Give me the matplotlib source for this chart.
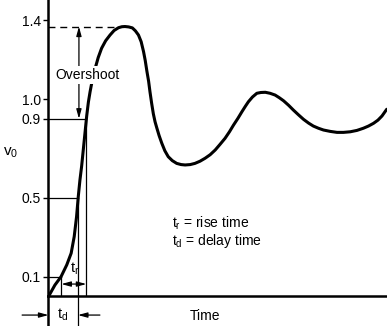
import numpy as np
import matplotlib
matplotlib.use("Agg")
from matplotlib import pyplot as plt

plt.rcParams['font.family'] = ['Liberation Sans', 'DejaVu Sans']
plt.rcParams['mathtext.fontset'] = 'custom'
plt.rcParams['mathtext.rm'] = 'Liberation Sans'
plt.rcParams['mathtext.it'] = 'Liberation Sans'

# step response v0(t), read point by point
time = [0.0, 0.19, 0.37, 0.54, 0.67, 0.76, 0.83, 0.88, 0.93, 0.98, 1.03,
        1.08, 1.13, 1.18, 1.23, 1.30, 1.38, 1.47, 1.57, 1.69, 1.82, 1.94, 2.07,
        2.17, 2.26, 2.37, 2.48, 2.57, 2.66, 2.74, 2.81, 2.86, 2.91, 2.96,
        3.0, 3.05, 3.1, 3.15, 3.20, 3.27, 3.35, 3.44, 3.54, 3.66, 3.79,
        3.92, 4.04, 4.19, 4.33, 4.48, 4.63, 4.78, 4.93, 5.07, 5.22, 5.35,
        5.47, 5.60, 5.72, 5.82, 5.91, 6.03, 6.16, 6.28, 6.41, 6.55, 6.70,
        6.82, 6.95, 7.10, 7.24, 7.39, 7.54, 7.69, 7.83, 7.98, 8.13, 8.33,
        8.53, 8.72, 8.92, 9.12, 9.31, 9.46, 9.61, 9.74, 9.86, 10.0]
v0 = [0.0, 0.058, 0.10, 0.16, 0.219, 0.303, 0.404, 0.505, 0.59, 0.66, 0.745,
      0.83, 0.915, 0.985, 1.037, 1.10, 1.155, 1.21, 1.257, 1.295, 1.324, 1.347,
      1.361, 1.366, 1.367, 1.365, 1.36, 1.345, 1.324, 1.29, 1.24, 1.195, 1.14,
      1.09, 1.037, 0.978, 0.925, 0.885, 0.855, 0.815, 0.776, 0.738, 0.708,
      0.688, 0.674, 0.668, 0.666, 0.668, 0.674, 0.685, 0.70, 0.718, 0.742,
      0.77, 0.801, 0.834, 0.868, 0.902, 0.936, 0.963, 0.986, 1.01, 1.029,
      1.033, 1.034, 1.029, 1.02, 1.007, 0.991, 0.968, 0.944, 0.92, 0.897,
      0.878, 0.863, 0.852, 0.843, 0.836, 0.831, 0.831, 0.834, 0.841, 0.852,
      0.863, 0.877, 0.893, 0.914, 0.948]

yticks = [0.1, 0.5, 0.9, 1.0, 1.4]
ytick_labels = ['0.1', '0.5', '0.9', '1.0', '1.4']

peak = 1.367
t10, t50, t90 = 0.38, 0.87, 1.12

fig = plt.figure(figsize=(3.87, 3.26), dpi=100)
ax = fig.add_axes([0.1253, 0.0905, 0.874, 0.9095])
ax.set_xlim(0, 10.0)
ax.set_ylim(0, 1.5013)

ax.plot(time, v0, color='black', lw=2.2, solid_joinstyle='round',
        solid_capstyle='round', zorder=3)

for s in ['top', 'right']:
    ax.spines[s].set_visible(False)
for s in ['left', 'bottom']:
    ax.spines[s].set_linewidth(1.8)
ax.set_xticks([])
ax.set_yticks(yticks)
ax.set_yticklabels(ytick_labels, fontsize=10)
ax.tick_params(axis='y', direction='out', length=3.5, width=1.0, pad=2)

# level lines and their time markers
thin = dict(color='black', lw=0.9)
ax.plot([0, t10], [0.1, 0.1], **thin)
ax.plot([0, t50], [0.5, 0.5], **thin)
ax.plot([0, t90], [0.9, 0.9], **thin)
ax.plot([t10, t10], [0, 0.1], **thin)
ax.plot([t50, t50], [-0.149, 0.5], clip_on=False, **thin)
ax.plot([t90, t90], [0, 0.9], **thin)
ax.plot([0, 0], [-0.149, 0], clip_on=False, color='black', lw=1.8)
ax.plot([0, 1.95], [peak, peak], color='black', lw=1.0, dashes=(5, 3.5))

arrow = dict(arrowstyle='<|-|>,head_width=0.15,head_length=0.55',
             color='black', lw=0.9, shrinkA=0, shrinkB=0)
ax.annotate('', xy=(0.90, peak), xytext=(0.90, 0.9), arrowprops=arrow)
ax.text(1.14, 1.12, 'Overshoot', fontsize=10, ha='center', va='center',
        bbox=dict(facecolor='white', edgecolor='none', pad=1.5))

ax.annotate('', xy=(t10, 0.063), xytext=(t90, 0.063), arrowprops=arrow)
ax.text(0.76, 0.14, '$t_\\mathrm{r}$', fontsize=10.5, ha='center', va='center')

one_way = dict(arrowstyle='-|>,head_width=0.15,head_length=0.55',
               color='black', lw=0.9, shrinkA=0, shrinkB=0)
ax.annotate('', xy=(0, -0.094), xytext=(-0.78, -0.094), arrowprops=one_way,
            annotation_clip=False)
ax.annotate('', xy=(t50, -0.094), xytext=(1.52, -0.094), arrowprops=one_way,
            annotation_clip=False)
ax.text(0.43, -0.094, '$t_\\mathrm{d}$', fontsize=10.5, ha='center', va='center',
        clip_on=False)

ax.text(3.66, 0.372, '$t_\\mathrm{r}$ = rise time', fontsize=10, va='center')
ax.text(3.66, 0.28, '$t_\\mathrm{d}$ = delay time', fontsize=10, va='center')
ax.text(4.19, -0.099, 'Time', fontsize=10, va='center', clip_on=False)
fig.text(0.008, 1 - 153 / 326, '$v_0$', fontsize=11, va='center')

fig.savefig('out.png', dpi=100, facecolor='white')
